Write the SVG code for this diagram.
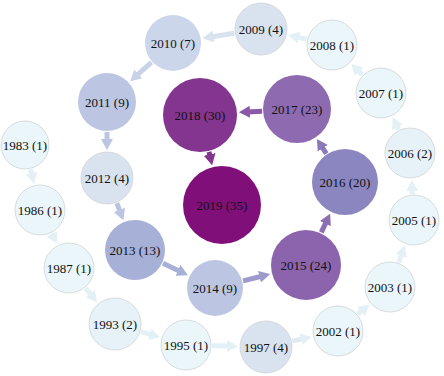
<svg xmlns="http://www.w3.org/2000/svg" width="444" height="376" viewBox="0 0 444 376">
<style>
text{font-family:"Liberation Serif","Times New Roman",serif;font-size:13px;fill:#111;text-anchor:middle;dominant-baseline:central}
.lt{stroke:#cfd3d6;stroke-width:0.8}
.c1{fill:#eaf6f9}.c2{fill:#e6f2f7}.c4{fill:#d9e3ef}.c7{fill:#ccd6ea}.c9{fill:#bcc6e2}
.c13{fill:#a7b0d6}.c24{fill:#8c64ad}.c20{fill:#8b86c0}.c23{fill:#8e6bb1}.c30{fill:#84358f}.c35{fill:#800f7a}
#links line{stroke-width:5;fill:none}
</style>
<defs>
<marker id="m1" markerUnits="userSpaceOnUse" markerWidth="12" markerHeight="12" refX="3" refY="6" orient="auto"><path d="M0,0L11,6L0,12z" fill="#e3f1f6"/></marker>
<marker id="m4" markerUnits="userSpaceOnUse" markerWidth="12" markerHeight="12" refX="3" refY="6" orient="auto"><path d="M0,0L11,6L0,12z" fill="#d9e3ef"/></marker>
<marker id="m7" markerUnits="userSpaceOnUse" markerWidth="12" markerHeight="12" refX="3" refY="6" orient="auto"><path d="M0,0L11,6L0,12z" fill="#c8d2e8"/></marker>
<marker id="m9" markerUnits="userSpaceOnUse" markerWidth="12" markerHeight="12" refX="3" refY="6" orient="auto"><path d="M0,0L11,6L0,12z" fill="#bcc6e2"/></marker>
<marker id="m13" markerUnits="userSpaceOnUse" markerWidth="12" markerHeight="12" refX="3" refY="6" orient="auto"><path d="M0,0L11,6L0,12z" fill="#a7b0d6"/></marker>
<marker id="m14" markerUnits="userSpaceOnUse" markerWidth="12" markerHeight="12" refX="3" refY="6" orient="auto"><path d="M0,0L11,6L0,12z" fill="#9e9acb"/></marker>
<marker id="m24" markerUnits="userSpaceOnUse" markerWidth="12" markerHeight="12" refX="3" refY="6" orient="auto"><path d="M0,0L11,6L0,12z" fill="#8c6fb2"/></marker>
<marker id="m20" markerUnits="userSpaceOnUse" markerWidth="12" markerHeight="12" refX="3" refY="6" orient="auto"><path d="M0,0L11,6L0,12z" fill="#8b78b8"/></marker>
<marker id="m23" markerUnits="userSpaceOnUse" markerWidth="12" markerHeight="12" refX="3" refY="6" orient="auto"><path d="M0,0L11,6L0,12z" fill="#8a5aa8"/></marker>
<marker id="m30" markerUnits="userSpaceOnUse" markerWidth="12" markerHeight="12" refX="3" refY="6" orient="auto"><path d="M0,0L11,6L0,12z" fill="#84358f"/></marker>
</defs>
<rect width="444" height="376" fill="#ffffff"/>
<g id="links">
<line x1="30.6" y1="169.4" x2="32.1" y2="175.9" stroke="#e3f1f6" marker-end="url(#m1)"/>
<line x1="51.6" y1="233.3" x2="53.4" y2="236.7" stroke="#e3f1f6" marker-end="url(#m1)"/>
<line x1="85.5" y1="288.1" x2="92.1" y2="296.2" stroke="#e3f1f6" marker-end="url(#m1)"/>
<line x1="140.9" y1="331.7" x2="152.4" y2="335.1" stroke="#e3f1f6" marker-end="url(#m1)"/>
<line x1="212" y1="345.7" x2="230" y2="346.1" stroke="#e3f1f6" marker-end="url(#m1)"/>
<line x1="292.3" y1="341.1" x2="303.8" y2="338.6" stroke="#dfeaf3" marker-end="url(#m1)"/>
<line x1="357.8" y1="314.2" x2="363.3" y2="309.6" stroke="#e3f1f6" marker-end="url(#m1)"/>
<line x1="398.8" y1="262.5" x2="402.2" y2="252.9" stroke="#e3f1f6" marker-end="url(#m1)"/>
<line x1="412.4" y1="194.1" x2="412.1" y2="187.9" stroke="#e3f1f6" marker-end="url(#m1)"/>
<line x1="398.7" y1="129.6" x2="396.2" y2="124.5" stroke="#e3f1f6" marker-end="url(#m1)"/>
<line x1="362.4" y1="74.8" x2="357" y2="69.5" stroke="#e3f1f6" marker-end="url(#m1)"/>
<line x1="306.6" y1="39.3" x2="296.1" y2="36.9" stroke="#e3f1f6" marker-end="url(#m1)"/>
<line x1="234.3" y1="33.2" x2="210.5" y2="37" stroke="#d9e3ef" marker-end="url(#m4)"/>
<line x1="151.4" y1="62.3" x2="136.1" y2="76" stroke="#c8d2e8" marker-end="url(#m7)"/>
<line x1="107" y1="132" x2="107" y2="142" stroke="#bcc6e2" marker-end="url(#m9)"/>
<line x1="116.8" y1="203.2" x2="120.5" y2="212.7" stroke="#b9c3e0" marker-end="url(#m9)"/>
<line x1="163" y1="263.3" x2="180.7" y2="271.7" stroke="#a7b0d6" marker-end="url(#m13)"/>
<line x1="243.1" y1="280.9" x2="262.4" y2="276" stroke="#9e9acb" marker-end="url(#m14)"/>
<line x1="321.3" y1="232.4" x2="326.7" y2="220.9" stroke="#8c6fb2" marker-end="url(#m24)"/>
<line x1="326.3" y1="153.6" x2="321.2" y2="145.7" stroke="#8b78b8" marker-end="url(#m20)"/>
<line x1="262.1" y1="111.2" x2="246.9" y2="111.9" stroke="#8a5aa8" marker-end="url(#m23)"/>
<line x1="209" y1="151.9" x2="210.3" y2="157.4" stroke="#84358f" marker-end="url(#m30)"/>
</g>
<g id="n1983"><circle cx="25" cy="145" r="24" class="c1 lt"/><text x="25" y="145">1983 (1)</text></g>
<g id="n1986"><circle cx="40" cy="210" r="25" class="c1 lt"/><text x="40" y="210">1986 (1)</text></g>
<g id="n1987"><circle cx="69" cy="268" r="25" class="c1 lt"/><text x="69" y="268">1987 (1)</text></g>
<g id="n1993"><circle cx="115" cy="324" r="26" class="c2 lt"/><text x="115" y="324">1993 (2)</text></g>
<g id="n1995"><circle cx="186" cy="345" r="25" class="c1 lt"/><text x="186" y="345">1995 (1)</text></g>
<g id="n1997"><circle cx="266" cy="347" r="26" class="c4 lt"/><text x="266" y="347">1997 (4)</text></g>
<g id="n2002"><circle cx="338" cy="331" r="25" class="c1 lt"/><text x="338" y="331">2002 (1)</text></g>
<g id="n2003"><circle cx="390" cy="287" r="25" class="c1 lt"/><text x="390" y="287">2003 (1)</text></g>
<g id="n2005"><circle cx="414" cy="220" r="25" class="c1 lt"/><text x="414" y="220">2005 (1)</text></g>
<g id="n2006"><circle cx="410" cy="153" r="25" class="c2 lt"/><text x="410" y="153">2006 (2)</text></g>
<g id="n2007"><circle cx="381" cy="93" r="25" class="c1 lt"/><text x="381" y="93">2007 (1)</text></g>
<g id="n2008"><circle cx="332" cy="45" r="25" class="c1 lt"/><text x="332" y="45">2008 (1)</text></g>
<g id="n2009"><circle cx="261" cy="29" r="26" class="c4 lt"/><text x="261" y="29">2009 (4)</text></g>
<g id="n2010"><circle cx="173" cy="43" r="28" class="c7"/><text x="173" y="43">2010 (7)</text></g>
<g id="n2011"><circle cx="107" cy="102" r="29" class="c9"/><text x="107" y="102">2011 (9)</text></g>
<g id="n2012"><circle cx="107" cy="178" r="26" class="c4 lt"/><text x="107" y="178">2012 (4)</text></g>
<g id="n2013"><circle cx="135" cy="250" r="30" class="c13"/><text x="135" y="250">2013 (13)</text></g>
<g id="n2014"><circle cx="215" cy="288" r="28" class="c9"/><text x="215" y="288">2014 (9)</text></g>
<g id="n2015"><circle cx="306" cy="265" r="35" class="c24"/><text x="306" y="265">2015 (24)</text></g>
<g id="n2016"><circle cx="345" cy="182" r="33" class="c20"/><text x="345" y="182">2016 (20)</text></g>
<g id="n2017"><circle cx="297" cy="109" r="34" class="c23"/><text x="297" y="109">2017 (23)</text></g>
<g id="n2018"><circle cx="200" cy="115" r="37" class="c30"/><text x="200" y="115">2018 (30)</text></g>
<g id="n2019"><circle cx="222" cy="205" r="39" class="c35"/><text x="222" y="205">2019 (35)</text></g>
</svg>
